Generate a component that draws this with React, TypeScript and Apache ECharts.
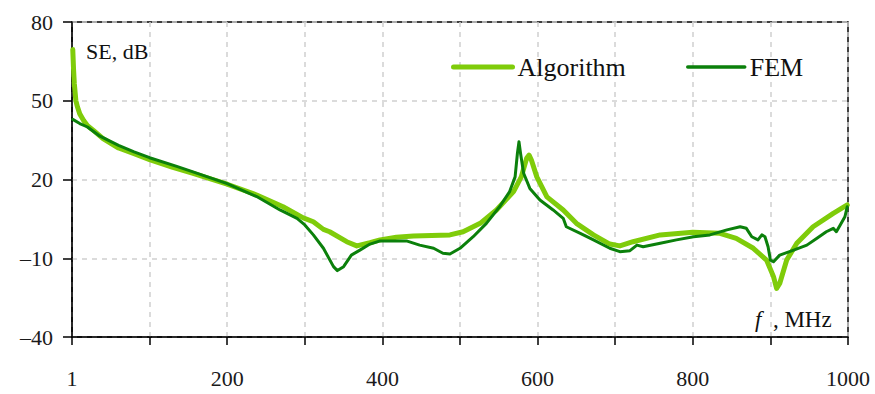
import React, { useEffect, useRef } from "react";
import * as echarts from "echarts";

const seriesNames = ["Algorithm", "FEM"];
const seriesColors = ["#7fcc0a", "#0b800b"];

// Frequency (MHz) and shielding effectiveness (dB)
const algorithmFreq = [1, 2, 3, 5, 7, 10, 15, 20, 28, 40, 60, 80, 100, 130, 155, 200, 238, 272, 298, 311, 324, 332, 354, 367, 384, 397, 418, 440, 487, 504, 526, 547, 569, 579, 586, 589, 592, 599, 612, 633, 650, 672, 693, 706, 723, 758, 800, 835, 856, 878, 895, 904, 908, 912, 921, 934, 955, 981, 999];
const algorithmSE = [69.5, 62, 56.5, 50, 47.7, 45, 42.5, 40.5, 38.6, 35.6, 32, 29.8, 27.6, 24.6, 22.4, 18.2, 14.1, 9.6, 5.4, 3.9, 1, 0.1, -3.7, -5.3, -4.1, -3, -2, -1.5, -1.1, 0.1, 3.3, 8.4, 15.4, 21, 28.2, 29.3, 27.4, 21, 13.4, 8.4, 3.3, -1.1, -4.6, -5.3, -3.7, -1.1, -0.1, -0.5, -2.4, -6.2, -10.7, -17, -21.5, -19.6, -10.7, -4.3, 2, 7.1, 10.3];

const femFreq = [1, 10, 20, 36, 60, 80, 100, 135, 155, 200, 238, 268, 290, 300, 311, 324, 337, 342, 350, 360, 371, 384, 397, 431, 448, 466, 478, 487, 500, 517, 534, 551, 564, 571, 574, 576, 578, 582, 590, 603, 620, 633, 637, 655, 672, 693, 706, 719, 728, 736, 758, 779, 801, 822, 844, 861, 869, 876, 884, 889, 893, 897, 900, 904, 912, 930, 947, 960, 972, 981, 985, 990, 996, 999];
const femSE = [42.9, 41.3, 40, 36.5, 33, 30.5, 28.3, 25, 23, 18.4, 13.5, 8.4, 5.2, 2.7, -1.1, -6.2, -13.2, -14.7, -13.2, -8.8, -6.9, -4.6, -3.4, -3.4, -5, -6.2, -8.1, -8.4, -6.2, -1.8, 3.3, 9.6, 15.4, 21, 30, 34.4, 30, 22.4, 16.6, 12.2, 8.4, 5.2, 2, -0.5, -3, -6.2, -7.5, -7.1, -5, -5.6, -4.3, -3, -1.8, -1.1, 0.8, 2, 1.4, -1.8, -3, -1.1, -1.8, -5.6, -10.7, -11.3, -8.8, -6.9, -5, -2.4, 0.1, 1.4, 0.1, 2.7, 5.8, 9.6];

const xMin = 0;
const xMax = 1000;
const xInterval = 100;
const yMin = -40;
const yMax = 80;
const yInterval = 30;

const FONT = "Liberation Serif";

function zip(xs: number[], ys: number[]): [number, number][] {
  return xs.map((x, i) => [x, ys[i]]);
}

export default function App() {
  const ref = useRef<HTMLDivElement>(null);

  useEffect(() => {
    if (!ref.current) return;
    const chart = echarts.init(ref.current, undefined, { renderer: "svg" });
    const option: any = {
      animation: false,
      backgroundColor: "#ffffff",
      textStyle: { fontFamily: FONT },
      grid: {
        left: 72,
        right: 27,
        top: 22,
        bottom: 57,
        show: true,
        borderColor: "#000",
        borderWidth: 1.5,
        backgroundColor: "transparent",
      },
      legend: [
        {
          left: 451,
          top: 54,
          padding: 0,
          data: [{ name: seriesNames[0], lineStyle: { width: 5, cap: "round" }, itemStyle: { opacity: 0 } }],
          itemWidth: 59,
          itemHeight: 14,
          textStyle: { fontFamily: FONT, fontSize: 26, color: "#111" },
        },
        {
          left: 686,
          top: 54,
          padding: 0,
          data: [{ name: seriesNames[1], lineStyle: { width: 3.5, cap: "round" }, itemStyle: { opacity: 0 } }],
          itemWidth: 57,
          itemHeight: 14,
          textStyle: { fontFamily: FONT, fontSize: 26, color: "#111" },
        },
      ],
      xAxis: {
        type: "value",
        min: xMin,
        max: xMax,
        interval: xInterval,
        axisLine: { show: true, onZero: false, lineStyle: { color: "#000", width: 1.5 } },
        axisTick: { show: true, inside: false, length: 8, lineStyle: { color: "#000", width: 1.5 } },
        axisLabel: {
          margin: 30,
          fontFamily: FONT,
          fontSize: 22,
          color: "#1a1a1a",
          formatter: (v: number) => (v === 0 ? "1" : v % 200 === 0 ? String(v) : ""),
        },
        splitLine: { show: true, lineStyle: { color: "#cfcfcf", width: 1.5, type: [5, 5] } },
      },
      yAxis: {
        type: "value",
        min: yMin,
        max: yMax,
        interval: yInterval,
        axisLine: { show: true, onZero: false, lineStyle: { color: "#000", width: 1.5 } },
        axisTick: { show: true, inside: false, length: 9, lineStyle: { color: "#000", width: 1.5 } },
        axisLabel: {
          margin: 19,
          fontFamily: FONT,
          fontSize: 22,
          color: "#1a1a1a",
          formatter: (v: number) => (v < 0 ? "\u2013" + Math.abs(v) : String(v)),
        },
        splitLine: { show: true, lineStyle: { color: "#cfcfcf", width: 1.5, type: [5, 5] } },
      },
      graphic: [
        {
          type: "text",
          left: 86,
          top: 40,
          style: { text: "SE, dB", fontFamily: FONT, fontSize: 22, fill: "#111" },
        },
        {
          type: "text",
          left: 755,
          top: 308,
          style: {
            text: "{i|f}  , MHz",
            fontFamily: FONT,
            fontSize: 23,
            fill: "#111",
            rich: { i: { fontFamily: FONT, fontStyle: "italic", fontSize: 23, fill: "#111" } },
          },
        },
      ],
      series: [
        {
          name: seriesNames[0],
          type: "line",
          data: zip(algorithmFreq, algorithmSE),
          showSymbol: false,
          symbol: "none",
          lineStyle: { color: seriesColors[0], width: 5, cap: "round", join: "round" },
          itemStyle: { color: seriesColors[0] },
          z: 2,
        },
        {
          name: seriesNames[1],
          type: "line",
          data: zip(femFreq, femSE),
          showSymbol: false,
          symbol: "none",
          lineStyle: { color: seriesColors[1], width: 3, cap: "round", join: "round" },
          itemStyle: { color: seriesColors[1] },
          z: 3,
        },
      ],
    };
    chart.setOption(option);
    return () => {
      chart.dispose();
    };
  }, []);

  return <div ref={ref} style={{ width: 875, height: 394, position: "absolute", left: 0, top: 0 }} />;
}
